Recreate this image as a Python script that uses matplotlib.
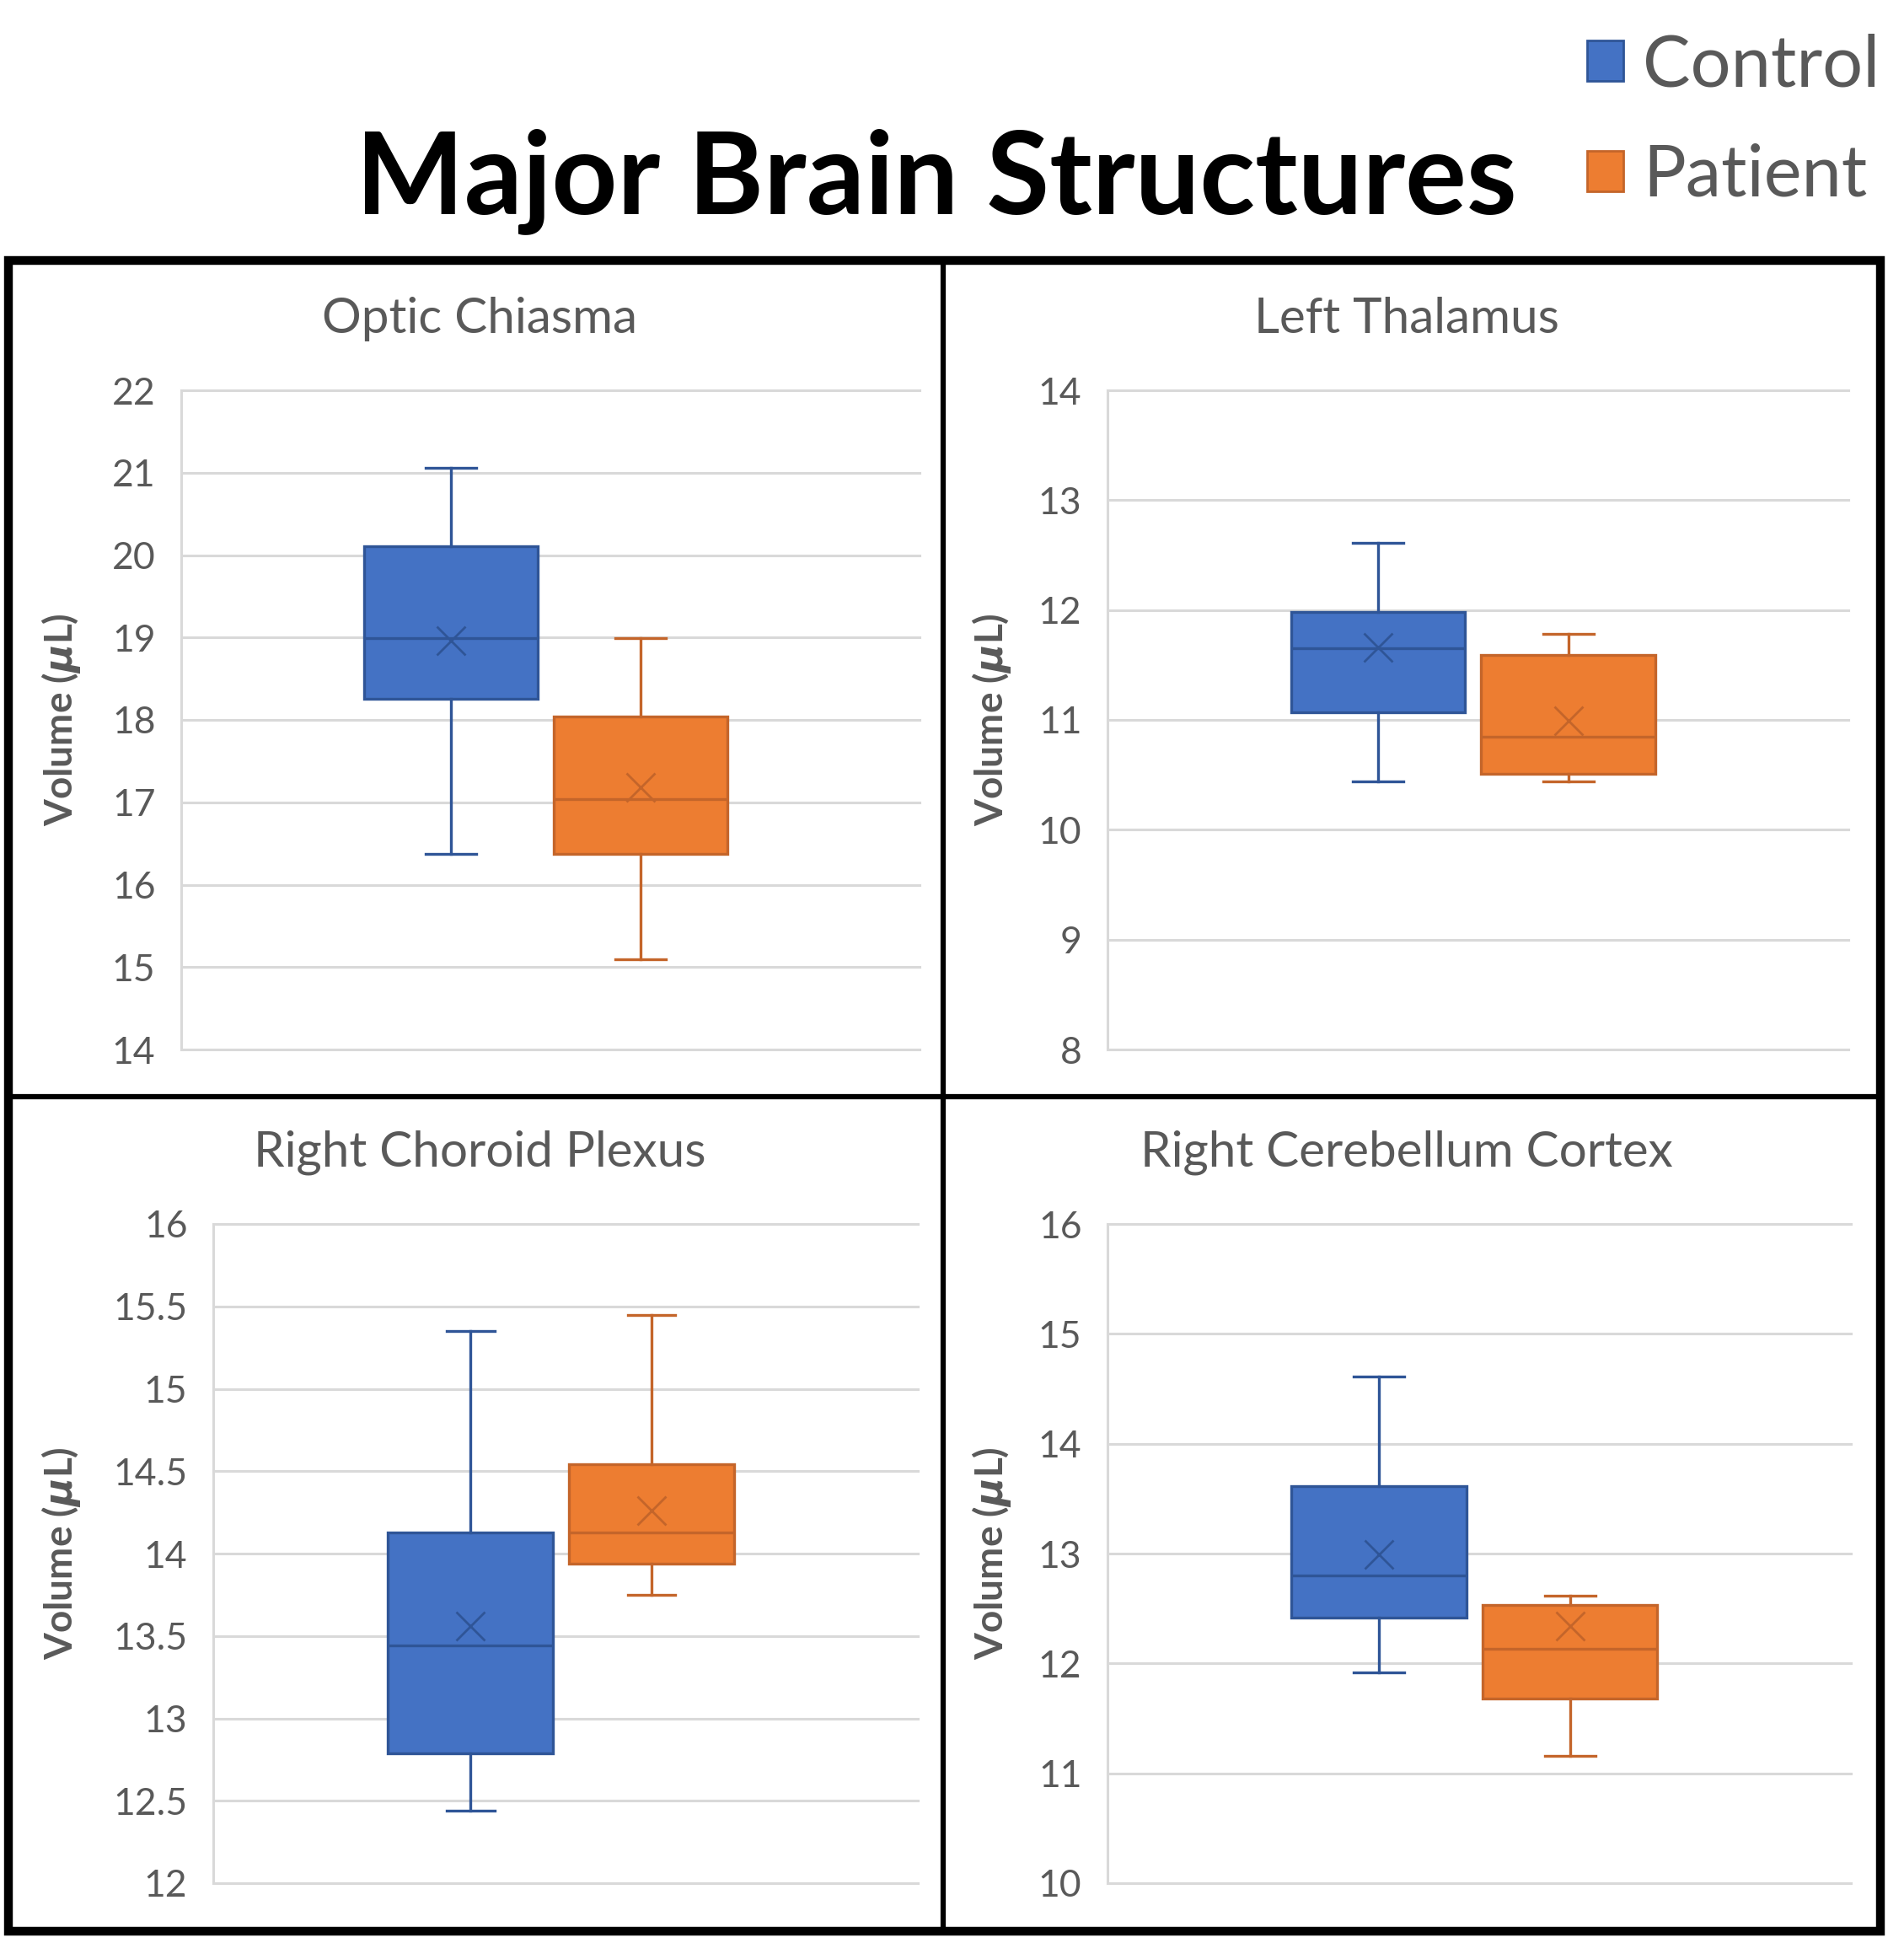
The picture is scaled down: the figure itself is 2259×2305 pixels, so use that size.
import matplotlib
matplotlib.use("Agg")
import matplotlib.pyplot as plt
from matplotlib.patches import Patch, Rectangle
from matplotlib.lines import Line2D
from matplotlib.ticker import MultipleLocator, FuncFormatter

plt.rcParams['font.family'] = ['Lato', 'DejaVu Sans']
plt.rcParams['mathtext.fontset'] = 'custom'
plt.rcParams['mathtext.it'] = 'DejaVu Sans:italic:bold'

# data
structures = ["Optic Chiasma", "Left Thalamus", "Right Choroid Plexus", "Right Cerebellum Cortex"]
groups = ["Control", "Patient"]

control_whislo = [16.37, 10.44, 12.44, 11.92]
control_q1 = [18.26, 11.07, 12.79, 12.42]
control_med = [18.99, 11.65, 13.44, 12.80]
control_q3 = [20.11, 11.98, 14.13, 13.61]
control_whishi = [21.06, 12.61, 15.35, 14.61]
control_mean = [18.96, 11.66, 13.56, 12.99]

patient_whislo = [15.09, 10.44, 13.75, 11.16]
patient_q1 = [16.37, 10.51, 13.94, 11.68]
patient_med = [17.04, 10.85, 14.13, 12.13]
patient_q3 = [18.04, 11.59, 14.54, 12.53]
patient_whishi = [18.99, 11.78, 15.45, 12.62]
patient_mean = [17.18, 10.99, 14.26, 12.34]

y_limits = [(14, 22), (8, 14), (12, 16), (10, 16)]
y_steps = [1, 1, 0.5, 1]

fills = ["#4472C4", "#ED7D31"]
edges = ["#2F5597", "#C4652A"]
gray = "#595959"
grid = "#D9D9D9"

W, H = 2259, 2305
fig = plt.figure(figsize=(W / 100, H / 100), dpi=100)

# plot areas in pixels: x0, x1, ytop, ybottom
areas = [(215, 1091, 463, 1245), (1314, 2193, 463, 1245),
         (253, 1089, 1452, 2234), (1314, 2196, 1452, 2234)]
panel_cx = [569, 1669, 569, 1669]
title_y = [378, 378, 1367, 1367]
label_x = 73, 1176

stats_by_group = [
    (control_whislo, control_q1, control_med, control_q3, control_whishi, control_mean),
    (patient_whislo, patient_q1, patient_med, patient_q3, patient_whishi, patient_mean),
]
positions = [0.365, 0.622]

for i, name in enumerate(structures):
    x0, x1, yt, yb = areas[i]
    ax = fig.add_axes([x0 / W, 1 - yb / H, (x1 - x0) / W, (yb - yt) / H])
    for g in range(2):
        lo, q1, med, q3, hi, mean = stats_by_group[g]
        st = dict(whislo=lo[i], q1=q1[i], med=med[i], q3=q3[i], whishi=hi[i],
                  mean=mean[i], fliers=[])
        ax.bxp([st], positions=[positions[g]], widths=[0.235], capwidths=[0.068],
               patch_artist=True, showmeans=True, showfliers=False, manage_ticks=False,
               boxprops=dict(facecolor=fills[g], edgecolor=edges[g], linewidth=2.4),
               medianprops=dict(color=edges[g], linewidth=2.4),
               whiskerprops=dict(color=edges[g], linewidth=2.4),
               capprops=dict(color=edges[g], linewidth=2.4),
               meanprops=dict(marker='x', markeredgecolor=edges[g], markersize=24,
                              markeredgewidth=2.0))
    ax.set_xlim(0, 1)
    ax.set_ylim(*y_limits[i])
    ax.yaxis.set_major_locator(MultipleLocator(y_steps[i]))
    ax.yaxis.set_major_formatter(FuncFormatter(lambda v, p: f"{v:g}"))
    ax.set_xticks([])
    for s in ["top", "right", "bottom"]:
        ax.spines[s].set_visible(False)
    ax.spines["left"].set_color(grid)
    ax.spines["left"].set_linewidth(2.2)
    ax.yaxis.grid(True, color=grid, linewidth=2.2, clip_on=False)
    ax.set_axisbelow(True)
    ax.tick_params(axis='y', length=0, pad=22, labelsize=32, labelcolor=gray)
    ax.set_ylabel(r"Volume ($\mu$L)", fontsize=33, fontweight='bold', color=gray, va='center')
    lx = label_x[i % 2]
    ax.yaxis.set_label_coords((lx - x0) / (x1 - x0), 0.5)
    fig.text(panel_cx[i] / W, 1 - title_y[i] / H, name, ha='center', va='center',
             fontsize=42, color=gray)

# frame and dividers
fig.add_artist(Rectangle((10 / W, 1 - 2291 / H), (2231 - 10) / W, (2291 - 309) / H,
                         transform=fig.transFigure, fill=False, edgecolor='black', linewidth=7.5))
fig.add_artist(Line2D([1119 / W, 1119 / W], [1 - 309 / H, 1 - 2291 / H],
                      transform=fig.transFigure, color='black', linewidth=4.5))
fig.add_artist(Line2D([10 / W, 2231 / W], [1 - 1301 / H, 1 - 1301 / H],
                      transform=fig.transFigure, color='black', linewidth=4.5))

fig.text(1111 / W, 1 - 253 / H, "Major Brain Structures", ha='center', va='baseline',
         fontsize=98, fontweight='bold', color='black')

handles = [Patch(facecolor=fills[g], edgecolor=edges[g], linewidth=2) for g in range(2)]
fig.legend(handles, groups, loc='upper right', bbox_to_anchor=(2273 / W, 1 + 3 / H),
           frameon=False, fontsize=61, labelcolor=gray, handlelength=0.5, handleheight=0.5,
           handletextpad=0.28, labelspacing=0.62, borderpad=0)

fig.savefig("out.png", dpi=100)
